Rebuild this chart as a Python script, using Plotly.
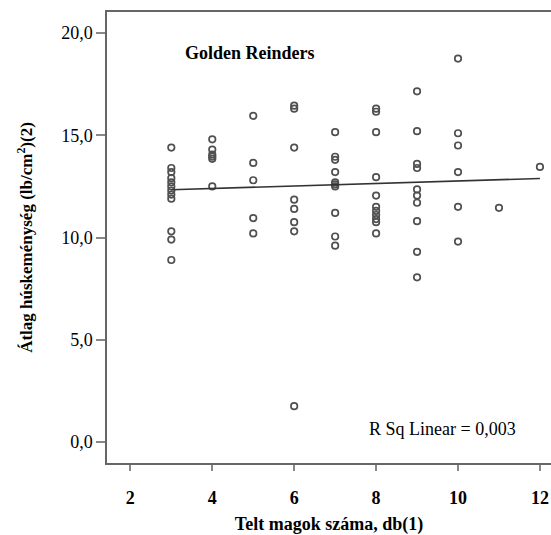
import numpy as np
import plotly.graph_objects as go

# Number of filled seeds per fruit (x) and mean flesh firmness (y)
seeds_3 = [14.4, 13.4, 13.2, 12.9, 12.7, 12.5, 12.3, 12.1, 11.9, 10.3, 9.9, 8.9]
seeds_4 = [14.8, 14.3, 14.05, 13.95, 13.85, 12.5]
seeds_5 = [15.95, 13.65, 12.8, 10.95, 10.2]
seeds_6 = [16.45, 16.3, 14.4, 11.85, 11.4, 10.75, 10.3, 1.75]
seeds_7 = [15.15, 13.95, 13.8, 13.2, 12.7, 12.6, 12.5, 11.2, 10.05, 9.6]
seeds_8 = [16.3, 16.15, 15.15, 12.95, 12.05, 11.5, 11.3, 11.1, 10.9, 10.75, 10.2]
seeds_9 = [17.15, 15.2, 13.6, 13.4, 12.35, 12.05, 11.7, 10.8, 9.3, 8.05]
seeds_10 = [18.75, 15.1, 14.5, 13.2, 11.5, 9.8]
seeds_11 = [11.45]
seeds_12 = [13.45]

groups = {3: seeds_3, 4: seeds_4, 5: seeds_5, 6: seeds_6, 7: seeds_7,
          8: seeds_8, 9: seeds_9, 10: seeds_10, 11: seeds_11, 12: seeds_12}

x = np.array([k for k, vals in groups.items() for _ in vals], dtype=float)
y = np.array([v for vals in groups.values() for v in vals], dtype=float)

# Least-squares linear fit
slope, intercept = np.polyfit(x, y, 1)
fit_x = np.array([x.min(), x.max()])
fit_y = intercept + slope * fit_x

serif = "Liberation Serif, Times New Roman, serif"

fig = go.Figure()
fig.add_trace(go.Scatter(
    x=x, y=y, mode="markers",
    marker=dict(symbol="circle-open", size=6.5, color="#505050",
                line=dict(width=1.7, color="#505050")),
    showlegend=False, hoverinfo="x+y"))
fig.add_trace(go.Scatter(
    x=fit_x, y=fit_y, mode="lines",
    line=dict(color="#333333", width=1.6),
    showlegend=False, hoverinfo="skip"))

fig.add_annotation(x=4.93, y=19.02, xref="x", yref="y",
                   text="<b>Golden Reinders</b>", showarrow=False,
                   font=dict(family=serif, size=18, color="black"))
fig.add_annotation(x=9.63, y=0.64, xref="x", yref="y",
                   text="R Sq Linear = 0,003", showarrow=False,
                   font=dict(family=serif, size=18, color="black"))

fig.update_layout(
    width=551, height=535,
    margin=dict(l=107, r=0, t=12, b=72),
    paper_bgcolor="white", plot_bgcolor="white",
    separators=",.",
    font=dict(family=serif, color="black"),
    xaxis=dict(
        range=[1.43, 12.27], tickvals=[2, 4, 6, 8, 10, 12],
        showgrid=False, zeroline=False,
        showline=True, linecolor="#666666", linewidth=1.5, mirror=True,
        ticks="outside", ticklen=6, tickcolor="#888888", tickwidth=1.5,
        ticklabelstandoff=12,
        tickfont=dict(family=serif, size=18, color="black", weight="bold"),
        title=dict(text="<b>Telt magok száma, db(1)</b>",
                   font=dict(family=serif, size=18), standoff=14),
    ),
    yaxis=dict(
        range=[-1.03, 21.03], tickvals=[0, 5, 10, 15, 20], tickformat=".1f",
        showgrid=False, zeroline=False,
        showline=True, linecolor="#666666", linewidth=1.5,
        ticks="outside", ticklen=9, tickcolor="#888888", tickwidth=1.5,
        tickfont=dict(family=serif, size=18, color="black"),
        title=dict(text="<b>Átlag húskeménység (lb/cm<sup>2</sup>)(2)</b>",
                   font=dict(family=serif, size=17), standoff=24),
    ),
)

fig.write_html("out.html")
